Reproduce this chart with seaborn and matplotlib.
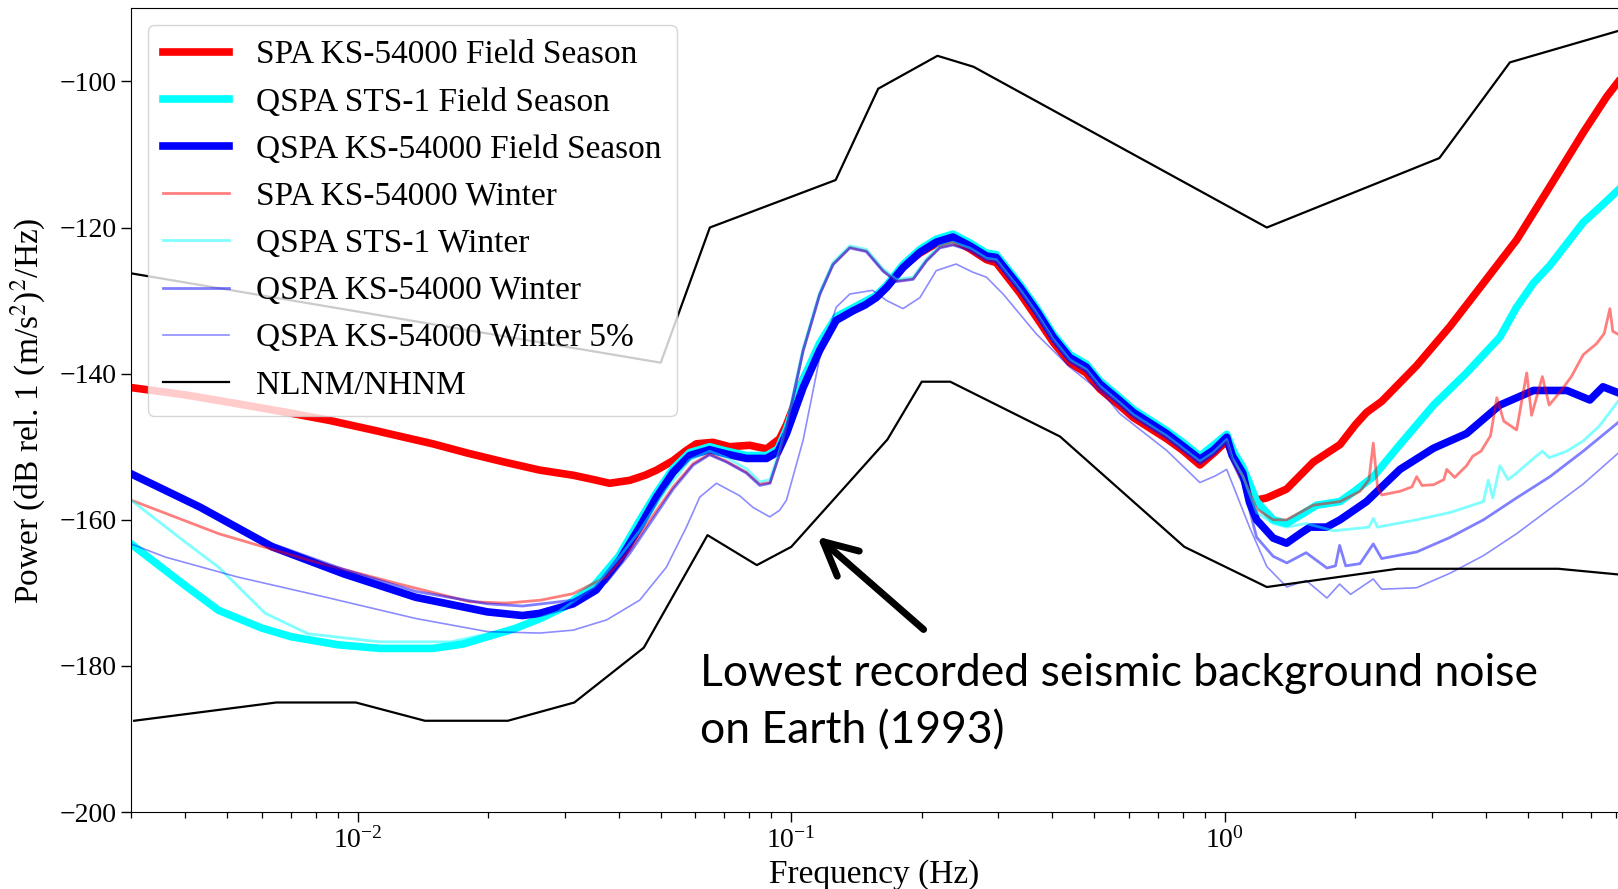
import matplotlib
matplotlib.use("Agg")
import matplotlib.pyplot as plt
import numpy as np
import pandas as pd
import seaborn as sns

# ---------------- data (frequency Hz, power dB) ----------------
SPA_KS_FIELD = [
    (0.003, -141.9), (0.0040, -142.9), (0.00526, -144.1), (0.0070, -145.4), (0.00861, -146.4),
    (0.0110, -147.8), (0.0149, -149.6), (0.0180, -150.9), (0.0218, -152.1), (0.0263, -153.2),
    (0.0314, -153.9), (0.0350, -154.5), (0.0381, -155.0), (0.0424, -154.6), (0.0460, -153.9),
    (0.0489, -153.2), (0.0534, -151.9), (0.0570, -150.6), (0.0604, -149.6), (0.0660, -149.4),
    (0.0721, -150.0), (0.0760, -149.9), (0.0802, -149.8), (0.0877, -150.3), (0.0940, -148.9),
    (0.0975, -147.0), (0.1010, -144.6), (0.1065, -140.8), (0.1163, -136.3), (0.1270, -132.5),
    (0.1388, -131.2), (0.1570, -129.4), (0.1660, -128.0), (0.1810, -125.3), (0.1980, -123.5),
    (0.2160, -122.2), (0.2360, -121.6), (0.2580, -122.9), (0.2820, -124.4), (0.2970, -124.8),
    (0.3370, -129.0), (0.3680, -132.3), (0.4020, -135.7), (0.4390, -138.5), (0.4790, -139.9),
    (0.5150, -142.1), (0.5730, -144.4), (0.6150, -146.0), (0.7340, -148.9), (0.8000, -150.5),
    (0.8760, -152.5), (0.9500, -150.7), (1.0100, -149.2), (1.0500, -151.5), (1.1000, -154.0),
    (1.1840, -157.3), (1.2500, -157.0), (1.3880, -155.8), (1.6000, -152.1), (1.8440, -149.7),
    (2.0000, -147.0), (2.1230, -145.3), (2.3000, -143.8), (2.7700, -138.9), (3.3100, -133.5),
    (3.9500, -127.6), (4.7100, -121.7), (5.6200, -114.4), (6.7100, -107.0), (7.6000, -102.1),
    (8.0700, -100.1),
]

QSPA_STS1_FIELD = [
    (0.003, -163.3), (0.0040, -169.0), (0.00478, -172.4), (0.0060, -174.8), (0.00702, -176.0),
    (0.0090, -177.1), (0.01125, -177.6), (0.0149, -177.6), (0.0175, -177.0), (0.0199, -176.0),
    (0.0230, -174.9), (0.0264, -173.5), (0.0300, -171.9), (0.0351, -169.0), (0.0400, -165.0),
    (0.0447, -160.1), (0.0489, -156.3), (0.0534, -153.0), (0.0583, -150.8), (0.0648, -150.0),
    (0.0709, -150.6), (0.0788, -151.2), (0.0877, -151.2), (0.0932, -150.3), (0.0975, -147.6),
    (0.1065, -140.8), (0.1163, -135.8), (0.1270, -132.2), (0.1388, -131.0), (0.1570, -129.3),
    (0.1660, -127.9), (0.1810, -125.1), (0.1980, -123.0), (0.2160, -121.6), (0.2360, -120.9),
    (0.2580, -122.1), (0.2820, -123.5), (0.2970, -123.7), (0.3370, -127.8), (0.3680, -131.0),
    (0.4020, -134.6), (0.4390, -137.4), (0.4790, -138.7), (0.5150, -141.0), (0.5730, -143.3),
    (0.6150, -144.9), (0.7340, -147.8), (0.8000, -149.4), (0.8760, -151.3), (0.9500, -149.6),
    (1.0100, -148.3), (1.0500, -150.8), (1.1000, -152.8), (1.1400, -155.0), (1.1840, -157.5),
    (1.2930, -160.0), (1.3880, -160.5), (1.5000, -159.3), (1.6280, -158.0), (1.8440, -157.5),
    (2.0000, -156.0), (2.2000, -154.1), (2.5350, -149.7), (3.0300, -144.3), (3.6100, -139.9),
    (4.3100, -135.0), (4.7000, -131.0), (5.1500, -127.6), (5.6200, -125.2), (6.7100, -119.3),
    (7.4000, -117.0), (8.0700, -114.9),
]

QSPA_KS_FIELD = [
    (0.003, -153.7), (0.00434, -158.3), (0.00635, -163.7), (0.00929, -167.4), (0.0136, -170.6),
    (0.0199, -172.6), (0.0240, -173.1), (0.0263, -172.8), (0.0314, -171.5), (0.0355, -169.6),
    (0.0402, -165.5), (0.0447, -161.0), (0.0489, -156.9), (0.0534, -153.5), (0.0583, -151.2),
    (0.0648, -150.4), (0.0709, -151.0), (0.0788, -151.6), (0.0877, -151.6), (0.0932, -150.7),
    (0.0975, -148.2), (0.1065, -141.9), (0.1163, -136.8), (0.1270, -132.7), (0.1388, -131.4),
    (0.1480, -130.6), (0.1570, -129.6), (0.1660, -128.2), (0.1810, -125.5), (0.1980, -123.4),
    (0.2160, -122.0), (0.2360, -121.3), (0.2580, -122.5), (0.2820, -123.9), (0.2970, -124.1),
    (0.3370, -128.2), (0.3680, -131.4), (0.4020, -135.0), (0.4390, -137.8), (0.4790, -139.1),
    (0.5150, -141.4), (0.5730, -143.7), (0.6150, -145.3), (0.7340, -148.2), (0.8000, -149.9),
    (0.8760, -151.7), (0.9400, -150.5), (1.0100, -148.7), (1.0400, -151.2), (1.1000, -153.6),
    (1.1400, -157.6), (1.1840, -160.0), (1.2930, -162.5), (1.3880, -163.2), (1.5000, -161.8),
    (1.5720, -161.0), (1.7170, -161.0), (1.8440, -160.0), (2.1230, -157.5), (2.5350, -153.1),
    (3.0300, -150.2), (3.6100, -148.2), (4.3100, -144.3), (5.1500, -142.3), (6.1500, -142.3),
    (6.9500, -143.6), (7.4500, -141.8), (8.0700, -142.6),
]

SPA_KS_WINTER = [
    (0.003, -157.3), (0.00478, -161.9), (0.00769, -165.5), (0.0123, -168.7), (0.0181, -171.2),
    (0.0220, -171.4), (0.0264, -171.0), (0.0314, -170.1), (0.0375, -167.8), (0.0424, -164.2),
    (0.0471, -160.1), (0.0534, -155.5), (0.0594, -152.3), (0.0648, -151.0), (0.0709, -152.0),
    (0.0788, -153.5), (0.0846, -155.1), (0.0893, -154.9), (0.0940, -150.9), (0.0975, -147.3),
    (0.1065, -136.8), (0.1163, -129.1), (0.1248, -125.0), (0.1365, -122.7), (0.1490, -123.2),
    (0.1630, -125.9), (0.1748, -127.3), (0.1910, -127.0), (0.2050, -124.5), (0.2200, -122.7),
    (0.2360, -122.3), (0.2580, -123.0), (0.2820, -124.4), (0.2970, -124.6), (0.3370, -128.7),
    (0.3680, -131.9), (0.4020, -135.5), (0.4390, -138.3), (0.4790, -139.6), (0.5150, -141.9),
    (0.5730, -144.2), (0.6150, -145.8), (0.7340, -148.7), (0.8000, -150.4), (0.8760, -152.2),
    (0.9400, -151.0), (1.0100, -149.2), (1.0400, -151.7), (1.1000, -154.0), (1.1840, -158.5),
    (1.2930, -160.0), (1.3880, -160.0), (1.6000, -158.0), (1.8440, -157.5), (2.0500, -156.1),
    (2.1500, -154.5), (2.2000, -149.5), (2.2500, -155.5), (2.3000, -156.6), (2.5350, -156.1),
    (2.7000, -155.5), (2.7700, -154.1), (2.8500, -155.3), (3.0300, -155.2), (3.2000, -154.5),
    (3.2500, -153.1), (3.3900, -154.2), (3.6100, -152.6), (3.7300, -151.3), (3.9000, -150.6),
    (4.1000, -148.5), (4.2400, -143.3), (4.4000, -146.5), (4.7100, -147.7), (4.9700, -139.9),
    (5.1000, -145.7), (5.4000, -140.4), (5.6000, -144.3), (5.9700, -142.3), (6.3000, -140.4),
    (6.7100, -137.4), (7.2000, -135.9), (7.5000, -134.5), (7.7300, -131.1), (7.8500, -134.2),
    (8.0700, -134.6),
]

QSPA_STS1_WINTER = [
    (0.003, -157.3), (0.00395, -162.8), (0.00478, -166.5), (0.00612, -172.8), (0.00769, -175.6),
    (0.01125, -176.7), (0.0164, -176.7), (0.0218, -175.1), (0.0290, -172.6), (0.0351, -169.2),
    (0.0400, -165.2), (0.0447, -161.5), (0.0513, -156.0), (0.0583, -151.8), (0.0648, -150.6),
    (0.0709, -151.5), (0.0788, -153.0), (0.0846, -154.8), (0.0893, -154.5), (0.0940, -150.5),
    (0.0975, -147.0), (0.1065, -136.5), (0.1163, -128.9), (0.1248, -124.8), (0.1365, -122.5),
    (0.1490, -123.0), (0.1630, -125.7), (0.1748, -127.1), (0.1910, -126.8), (0.2050, -124.3),
    (0.2200, -122.5), (0.2360, -122.0), (0.2580, -122.8), (0.2820, -124.2), (0.2970, -124.4),
    (0.3370, -128.5), (0.3680, -131.7), (0.4020, -135.3), (0.4390, -138.1), (0.4790, -139.4),
    (0.5150, -141.7), (0.5730, -144.0), (0.6150, -145.6), (0.7340, -148.5), (0.8000, -150.2),
    (0.8760, -152.0), (0.9400, -150.8), (1.0100, -149.0), (1.0400, -151.5), (1.1000, -154.0),
    (1.1840, -159.0), (1.2930, -160.5), (1.3880, -161.0), (1.5400, -160.5), (1.7800, -161.5),
    (2.0000, -161.2), (2.1500, -161.0), (2.2000, -159.8), (2.2500, -161.0), (2.7700, -160.0),
    (3.3100, -159.0), (3.9500, -157.5), (4.0500, -154.6), (4.1500, -157.0), (4.3100, -152.6),
    (4.5000, -154.5), (4.7100, -153.6), (5.1500, -151.6), (5.4000, -150.6), (5.6000, -151.5),
    (6.1500, -150.6), (6.7100, -149.2), (7.3000, -147.2), (8.0700, -143.8),
]

QSPA_KS_WINTER = [
    (0.003, -153.7), (0.00434, -158.1), (0.00635, -163.3), (0.00929, -166.8), (0.0136, -169.8),
    (0.0199, -171.5), (0.0240, -171.8), (0.0314, -171.0), (0.0375, -168.5), (0.0424, -164.6),
    (0.0471, -160.6), (0.0534, -155.8), (0.0594, -152.5), (0.0648, -151.1), (0.0709, -152.1),
    (0.0788, -153.6), (0.0846, -155.3), (0.0893, -155.0), (0.0940, -151.0), (0.0975, -147.4),
    (0.1065, -136.9), (0.1163, -129.2), (0.1248, -125.1), (0.1365, -122.8), (0.1490, -123.3),
    (0.1630, -126.0), (0.1748, -127.4), (0.1910, -127.1), (0.2050, -124.6), (0.2200, -122.8),
    (0.2360, -122.4), (0.2580, -123.1), (0.2820, -124.5), (0.2970, -124.7), (0.3370, -128.8),
    (0.3680, -132.0), (0.4020, -135.6), (0.4390, -138.4), (0.4790, -139.7), (0.5150, -142.0),
    (0.5730, -144.3), (0.6150, -145.9), (0.7340, -148.8), (0.8000, -150.5), (0.8760, -152.3),
    (0.9400, -151.1), (1.0100, -149.3), (1.0400, -152.0), (1.1000, -155.0), (1.1840, -162.4),
    (1.2930, -165.0), (1.3900, -165.9), (1.5400, -164.5), (1.7200, -166.6), (1.8000, -166.3),
    (1.8400, -163.5), (1.9000, -166.3), (2.0500, -166.0), (2.2000, -163.3), (2.3000, -165.3),
    (2.7700, -164.4), (3.3100, -162.4), (3.9500, -160.0), (4.7100, -157.0), (5.6200, -154.1),
    (6.7100, -150.6), (8.0700, -146.7),
]

QSPA_KS_WINTER_5 = [
    (0.003, -163.3), (0.0036, -165.1), (0.00526, -167.8), (0.00845, -170.6), (0.0136, -173.5),
    (0.0199, -175.3), (0.0263, -175.5), (0.0314, -175.1), (0.0375, -173.7), (0.0447, -171.0),
    (0.0515, -166.5), (0.0573, -161.0), (0.0615, -156.9), (0.0672, -155.0), (0.0760, -156.7),
    (0.0816, -158.3), (0.0892, -159.6), (0.0940, -158.7), (0.0975, -157.3), (0.1065, -149.1),
    (0.1163, -137.8), (0.1270, -130.9), (0.1365, -129.1), (0.1540, -128.6), (0.1660, -130.0),
    (0.1810, -131.1), (0.1980, -129.6), (0.2160, -125.9), (0.2400, -125.0), (0.2620, -126.1),
    (0.2820, -126.8), (0.3080, -129.1), (0.3680, -134.6), (0.4390, -139.1), (0.5250, -142.8),
    (0.5730, -145.5), (0.7340, -150.5), (0.8760, -154.9), (0.9500, -154.0), (1.0100, -153.1),
    (1.1400, -161.0), (1.2500, -166.4), (1.3900, -169.2), (1.5400, -168.3), (1.7200, -170.7),
    (1.8400, -168.8), (1.9500, -170.2), (2.2000, -168.1), (2.3000, -169.5), (2.7700, -169.3),
    (3.3100, -167.3), (3.9500, -164.9), (4.7100, -161.9), (5.6200, -158.5), (6.7100, -155.1),
    (8.0700, -150.9),
]

NLNM = [
    (0.00305, -187.5), (0.00649, -185.0), (0.0099, -185.0), (0.01429, -187.5), (0.0222, -187.5),
    (0.0316, -185.0), (0.0457, -177.5), (0.0641, -162.1), (0.0833, -166.2), (0.1000, -163.7),
    (0.1667, -149.0), (0.2000, -141.1), (0.2326, -141.1), (0.4167, -148.6), (0.8065, -163.7),
    (1.2500, -169.2), (2.5000, -166.7), (5.8800, -166.7), (10.0, -168.0),
]

NHNM = [
    (0.00282, -126.0), (0.0500, -138.5), (0.0649, -120.0), (0.1266, -113.5), (0.1587, -101.0),
    (0.2174, -96.5), (0.2632, -98.0), (1.2500, -120.0), (3.1250, -110.5), (4.5450, -97.4),
    (10.0, -91.5),
]

Y_TICKS = [-200, -180, -160, -140, -120, -100]
ANNOTATION = "Lowest recorded seismic background noise\non Earth (1993)"

# ---------------- style ----------------
plt.rcParams['font.family'] = ['Liberation Serif', 'DejaVu Serif']
plt.rcParams['mathtext.fontset'] = 'stix'

fig = plt.figure(figsize=(16.18, 8.89), dpi=100)
ax = fig.add_axes([131 / 1618, 1 - 812.1 / 889, (1618 - 131) / 1618, (812.1 - 8.3) / 889])


def draw(pairs, **kw):
    d = pd.DataFrame(pairs, columns=["freq", "db"])
    sns.lineplot(data=d, x="freq", y="db", ax=ax, sort=False, estimator=None, **kw)


draw(SPA_KS_FIELD, color="#ff0000", linewidth=5.5, label="SPA KS-54000 Field Season")
draw(QSPA_STS1_FIELD, color="#00ffff", linewidth=5.5, label="QSPA STS-1 Field Season")
draw(QSPA_KS_FIELD, color="#0000ff", linewidth=5.5, label="QSPA KS-54000 Field Season")
draw(SPA_KS_WINTER, color="#ff0000", linewidth=2, alpha=0.5, label="SPA KS-54000 Winter")
draw(QSPA_STS1_WINTER, color="#00ffff", linewidth=2, alpha=0.5, label="QSPA STS-1 Winter")
draw(QSPA_KS_WINTER, color="#0000ff", linewidth=2, alpha=0.5, label="QSPA KS-54000 Winter")
draw(QSPA_KS_WINTER_5, color="#0000ff", linewidth=1.2, alpha=0.45, label="QSPA KS-54000 Winter 5%")
draw(NLNM, color="black", linewidth=1.6, label="NLNM/NHNM")
draw(NHNM, color="black", linewidth=1.6, label="_nolegend_")

ax.set_xscale("log")
ax.set_xlim(0.003, 8.07)
ax.set_ylim(-200, -90)
ax.set_yticks(Y_TICKS)
ax.spines["right"].set_visible(False)
ax.tick_params(which="major", length=7, width=1, labelsize=20)
ax.tick_params(which="minor", length=4, width=0.9)
ax.set_xlabel("Frequency (Hz)", fontsize=24, labelpad=4)
ax.set_ylabel("Power (dB rel. 1 (m/s$^2$)$^2$/Hz)", fontsize=24, labelpad=8)

ax.legend(loc="upper left", fontsize=24, handlelength=2.0, framealpha=0.8,
          borderaxespad=0.5, borderpad=0.45)

fig.text(700 / 1618, 1 - 743.5 / 889, ANNOTATION, fontsize=32,
         family=["Lato", "DejaVu Sans"], va="baseline", ha="left",
         linespacing=1.5)
ax.annotate("", xy=(817.3 / 1618, 1 - 536.6 / 889), xycoords="figure fraction",
            xytext=(923.6 / 1618, 1 - 629.5 / 889), textcoords="figure fraction",
            arrowprops=dict(arrowstyle="->,head_length=24,head_width=12",
                            mutation_scale=1, lw=5, color="black",
                            shrinkA=0, shrinkB=0))

fig.savefig("out.png", dpi=100)
